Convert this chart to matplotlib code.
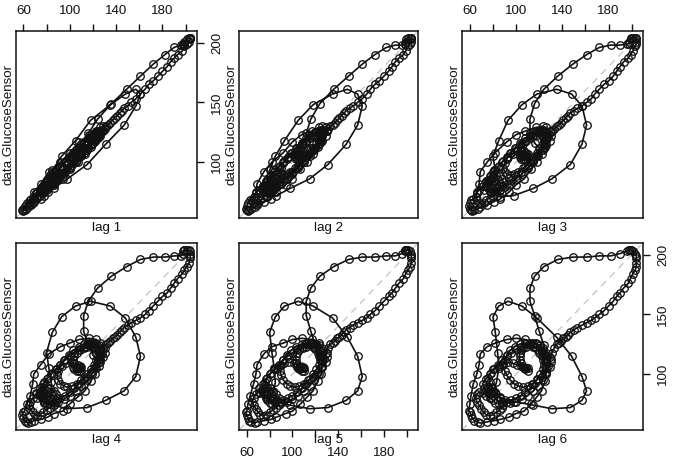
import matplotlib
matplotlib.use('Agg')
import matplotlib.pyplot as plt

plt.rcParams['font.family'] = ['Liberation Sans', 'DejaVu Sans']

# glucose trace, in time order
plateau_start = [110, 108, 106, 104, 103, 103, 103, 104, 106, 109, 112, 115, 118, 120, 122, 123, 124, 123, 121, 118,
                 115, 112, 108, 104, 100, 96, 92, 88, 85, 82, 80, 78, 77, 76, 75, 76, 78, 80, 83, 86, 88, 89, 88, 86,
                 83, 80, 77, 74, 72, 70, 68, 66, 65, 66, 68, 71, 74, 77, 80, 83, 85]
small_peak = [84, 82, 80, 85, 93, 105, 118, 135, 148, 157, 161, 157, 147, 131, 115, 98, 86, 78, 72, 71, 74, 77]
cluster = [80, 84, 88, 92, 96, 100, 104, 108, 112, 115, 118, 121, 123, 125, 126, 126, 125, 124, 120, 116, 112, 112, 116]
big_peak = [124, 136, 149, 161, 172, 182, 190, 196, 198, 198, 199, 199, 201, 203, 204, 204, 204, 204, 203, 201,
            199, 197, 193, 190, 187, 184, 180, 176, 172, 168, 165, 161, 157, 153, 150, 147, 145, 143, 141, 139,
            137, 135, 133, 131, 130, 128]
fall_low = [126, 125, 122, 118, 113, 107, 100, 94, 86, 81, 75, 69, 67, 64, 62, 61, 60, 59, 60, 61, 63, 66, 68]
slow_rise = [69, 75, 82, 92, 100, 108, 117, 123, 126, 129, 130, 129, 126, 122, 118, 114, 110, 106, 102, 98, 95, 92,
             90, 89, 90, 92, 95, 99, 103, 108, 112, 116, 120, 123, 125, 126, 125, 123, 119, 115, 110, 105, 100, 95,
             90, 86, 82, 79, 77, 76, 78, 81, 85, 89, 93, 97, 101, 104, 107, 109, 110, 109, 108, 107, 106, 105, 105,
             105, 105, 105]
glucose = plateau_start + small_peak + cluster + big_peak + fall_low + slow_rise

lags = [1, 2, 3, 4, 5, 6]
x_ticks = [60, 80, 100, 120, 140, 160, 180, 200]
x_labels = ['60', '', '100', '', '140', '', '180', '']
y_ticks = [100, 150, 200]

col_px = [(15.5, 197), (239, 418), (462, 643)]
row_px = [(31, 218), (243, 430)]
W, H = 675, 462
ink = '#111111'
fs = 9.6

lo, hi = min(glucose), max(glucose)
pad = (hi - lo) * 0.04

fig = plt.figure(figsize=(W / 100, H / 100), dpi=100)

for i, lag in enumerate(lags):
    x0, x1 = col_px[i % 3]
    y0, y1 = row_px[i // 3]
    ax = fig.add_axes([x0 / W, 1 - y1 / H, (x1 - x0) / W, (y1 - y0) / H])

    ax.plot([lo - pad, hi + pad], [lo - pad, hi + pad], color='#c8c8c8', lw=1, ls=(0, (5, 4)), zorder=1)
    ax.plot(glucose[:-lag], glucose[lag:], color=ink, lw=1.2, marker='o', ms=5.4, mfc='none', mew=0.95, zorder=2)

    ax.set_xlim(lo - pad, hi + pad)
    ax.set_ylim(lo - pad, hi + pad)
    for s in ax.spines.values():
        s.set_linewidth(1.1)
        s.set_color(ink)

    # ticks only on the outer edges, alternating like R's lag.plot
    ax.set_xticks([])
    ax.set_yticks([])
    if lag in (1, 3, 5):
        ax.set_xticks(x_ticks, x_labels)
        if lag == 5:
            ax.tick_params(axis='x', bottom=True, top=False, labelbottom=True, labeltop=False,
                           length=5, width=1, color=ink, labelsize=fs, pad=7, labelcolor=ink)
        else:
            ax.tick_params(axis='x', bottom=False, top=True, labelbottom=False, labeltop=True,
                           length=5, width=1, color=ink, labelsize=fs, pad=5, labelcolor=ink)
    if lag in (1, 6):
        ax.set_yticks(y_ticks, [str(v) for v in y_ticks])
        ax.tick_params(axis='y', left=False, right=True, labelleft=False, labelright=True,
                       length=5, width=1, color=ink, labelsize=fs, pad=5, labelcolor=ink)
        for t in ax.get_yticklabels():
            t.set_rotation(90)
            t.set_va('center')

    fig.text((x0 + x1) / 2 / W, 1 - (y1 + 10) / H, f'lag {lag}', ha='center', va='center', fontsize=fs, color=ink)
    fig.text((x0 - 7) / W, 1 - (y0 + y1) / 2 / H, 'data.GlucoseSensor', rotation=90, ha='center', va='center',
             fontsize=fs, color=ink)

fig.savefig('out.png', dpi=100)
